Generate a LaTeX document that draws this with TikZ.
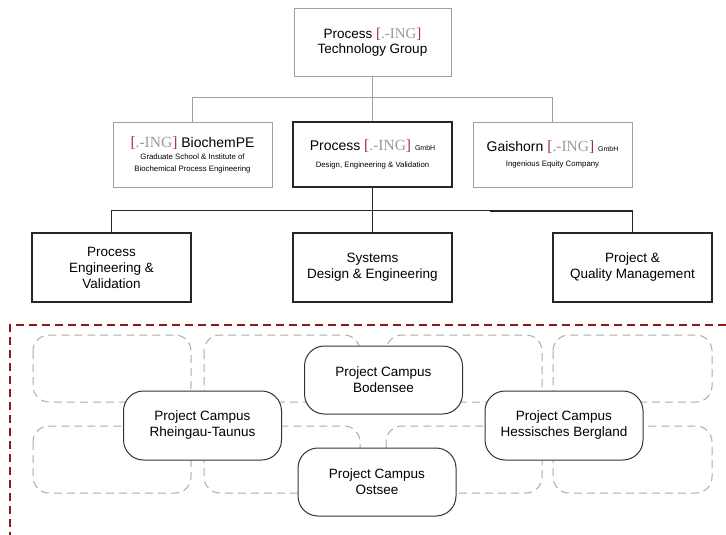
\documentclass[tikz,border=0pt]{standalone}
\usepackage{fontspec}
\setmainfont{Liberation Sans}
\newfontfamily\ingserif{Liberation Serif}
\definecolor{ingred}{HTML}{A03232}
\definecolor{inggray}{HTML}{9A9A9A}
\definecolor{framered}{HTML}{8B1A1A}
\definecolor{ghost}{HTML}{ABABAB}
\definecolor{conn}{HTML}{A0A0A0}
\newcommand\fsz[2]{\fontsize{#1}{#2}\selectfont}
\newcommand\ingmark[1]{{\ingserif\fontsize{#1}{#1}\selectfont\textcolor{ingred}{[}\textcolor{inggray}{.-ING}\textcolor{ingred}{]}}}
\begin{document}
\begin{tikzpicture}[x=1pt,y=-1pt,
  graybox/.style={draw=conn, line width=0.9pt, fill=white, inner sep=0pt, align=center,
    minimum width=159, minimum height=65},
  darkbox/.style={draw=black!85, line width=1.3pt, fill=white, inner sep=0pt, align=center,
    minimum width=159, minimum height=67},
  heavybox/.style={darkbox, line width=2pt},
  campus/.style={draw=black!80, line width=1pt, fill=white, rounded corners=20pt, inner sep=0pt,
    align=center, minimum width=158, minimum height=68, font=\fsz{13.5}{16}},
  ghostbox/.style={draw=ghost, line width=1pt, dash pattern=on 8pt off 5pt, rounded corners=16pt},
  cline/.style={draw=conn, line width=0.9pt},
  bline/.style={draw=black!85, line width=1.2pt},
  hline/.style={draw=black!85, line width=1.7pt}
]
\useasboundingbox (0,0) rectangle (726,535);

% top level
\node[graybox, minimum width=157, minimum height=68, font=\fsz{13.5}{15}] (top) at (372.5,42)
  {Process \ingmark{15}\\Technology Group};

% second row
\node[graybox, font=\fsz{7.8}{12}] (bio) at (192.5,154.5)
  {{\fsz{14}{16}\ingmark{15.5} BiochemPE}\\[0pt]Graduate School \& Institute of\\Biochemical Process Engineering};
\node[darkbox, minimum height=65, font=\fsz{7.8}{12}] (gmbh) at (372.5,154.5)
  {{\fsz{14}{16}Process \ingmark{15.5} {\fsz{7}{8}GmbH}}\\[5pt]Design, Engineering \& Validation};
\node[graybox, font=\fsz{7.8}{12}] (gai) at (552.5,154.5)
  {{\fsz{14}{16}Gaishorn \ingmark{15.5} {\fsz{7}{8}GmbH}}\\[3pt]Ingenious Equity Company};

% third row
\node[darkbox, minimum height=69, font=\fsz{13.5}{16}] (pev) at (111.5,267.5)
  {Process\\Engineering \&\\Validation};
\node[darkbox, minimum height=69, font=\fsz{13.5}{16}] (sde) at (372.5,267.5)
  {Systems\\Design \& Engineering};
\node[heavybox, minimum height=69, font=\fsz{13.5}{16}] (pqm) at (632.5,267.5)
  {Project \&\\Quality Management};

% connectors top -> second row
\path (top.south) ++(0,21) coordinate (tj);
\draw[cline] (top.south) -- (gmbh.north);
\draw[cline] (tj) -| (bio.north);
\draw[cline] (tj) -| (gai.north);

% connectors second -> third row
\path (gmbh.south) ++(0,23) coordinate (mj);
\coordinate (mk) at (mj -| 490,0);
\draw[bline] (gmbh.south) -- (sde.north);
\draw[bline] (mj) -| (pev.north);
\draw[bline] (mj) -- (mk);
\draw[hline] (mk) -| (pqm.north);

% red dashed frame
\draw[framered, line width=1.1pt, dash pattern=on 8pt off 5pt] (726,325) -- (10,325) -- (10,535);

% ghost boxes
\foreach \xa/\xb in {33/191, 204/360, 386/542, 553/712}{
  \draw[ghostbox] (\xa,335) rectangle (\xb,402);
  \draw[ghostbox] (\xa,426) rectangle (\xb,493);
}

% campus boxes
\node[campus] (bod) at (383.5,380) {Project Campus\\Bodensee};
\node[campus, minimum height=69] (rhe) at (202.5,425.5) {Project Campus\\Rheingau-Taunus};
\node[campus, minimum height=69] (hes) at (564,425.5) {Project Campus\\Hessisches Bergland};
\node[campus] (ost) at (377,482) {Project Campus\\Ostsee};
\end{tikzpicture}
\end{document}
